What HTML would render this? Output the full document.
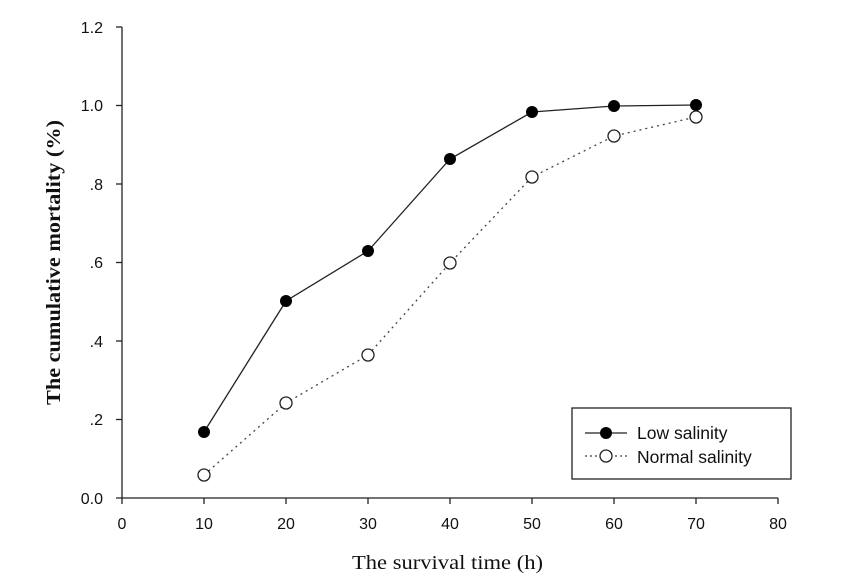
<!DOCTYPE html>
<html><head><style>body{margin:0;background:#fff}svg{display:block}</style></head><body>
<svg width="857" height="576" xmlns="http://www.w3.org/2000/svg" font-family="Liberation Sans, sans-serif">
<g stroke="#222" stroke-width="1.3" fill="none">
<line x1="122" y1="27" x2="122" y2="498"/>
<line x1="116" y1="498" x2="778" y2="498"/>
<line x1="116" y1="27" x2="122" y2="27"/><line x1="116" y1="105.5" x2="122" y2="105.5"/><line x1="116" y1="184" x2="122" y2="184"/><line x1="116" y1="262.5" x2="122" y2="262.5"/><line x1="116" y1="341" x2="122" y2="341"/><line x1="116" y1="419.5" x2="122" y2="419.5"/>
<line x1="122" y1="498" x2="122" y2="504"/><line x1="204" y1="498" x2="204" y2="504"/><line x1="286" y1="498" x2="286" y2="504"/><line x1="368" y1="498" x2="368" y2="504"/><line x1="450" y1="498" x2="450" y2="504"/><line x1="532" y1="498" x2="532" y2="504"/><line x1="614" y1="498" x2="614" y2="504"/><line x1="696" y1="498" x2="696" y2="504"/><line x1="778" y1="498" x2="778" y2="504"/>
</g>
<g font-size="16" fill="#111" text-anchor="end">
<text x="103" y="33">1.2</text><text x="103" y="111">1.0</text><text x="103" y="190">.8</text><text x="103" y="268">.6</text><text x="103" y="347">.4</text><text x="103" y="425">.2</text><text x="103" y="504">0.0</text>
</g>
<g font-size="16" fill="#111" text-anchor="middle">
<text x="122" y="529">0</text><text x="204" y="529">10</text><text x="286" y="529">20</text><text x="368" y="529">30</text><text x="450" y="529">40</text><text x="532" y="529">50</text><text x="614" y="529">60</text><text x="696" y="529">70</text><text x="778" y="529">80</text>
</g>
<text x="352" y="569" font-family="Liberation Serif, serif" font-size="20" textLength="191" lengthAdjust="spacingAndGlyphs" fill="#111">The survival time (h)</text>
<text transform="translate(60,405) rotate(-90)" font-family="Liberation Serif, serif" font-weight="bold" font-size="20" textLength="285" lengthAdjust="spacingAndGlyphs" fill="#111">The cumulative mortality (%)</text>
<polyline fill="none" stroke="#222" stroke-width="1.3" points="204,432 286,301 368,251 450,159 532,112 614,106 696,105"/>
<polyline fill="none" stroke="#444" stroke-width="1.3" stroke-dasharray="2,4" points="204,475 286,403 368,355 450,263 532,177 614,136 696,117"/>
<g fill="#000"><circle cx="204" cy="432" r="6"/><circle cx="286" cy="301" r="6"/><circle cx="368" cy="251" r="6"/><circle cx="450" cy="159" r="6"/><circle cx="532" cy="112" r="6"/><circle cx="614" cy="106" r="6"/><circle cx="696" cy="105" r="6"/></g>
<g fill="#fff" stroke="#222" stroke-width="1.3"><circle cx="204" cy="475" r="6"/><circle cx="286" cy="403" r="6"/><circle cx="368" cy="355" r="6"/><circle cx="450" cy="263" r="6"/><circle cx="532" cy="177" r="6"/><circle cx="614" cy="136" r="6"/><circle cx="696" cy="117" r="6"/></g>
<rect x="572" y="408" width="219" height="71" fill="#fff" stroke="#222" stroke-width="1.3"/>
<line x1="585" y1="433" x2="627" y2="433" stroke="#222" stroke-width="1.3"/><circle cx="606" cy="433" r="6" fill="#000"/>
<line x1="585" y1="456" x2="627" y2="456" stroke="#444" stroke-width="1.3" stroke-dasharray="2,3"/><circle cx="606" cy="456" r="6" fill="#fff" stroke="#222" stroke-width="1.3"/>
<text x="637" y="439" font-size="17.5" fill="#111">Low salinity</text>
<text x="637" y="463" font-size="17.5" fill="#111">Normal salinity</text>
</svg>
</body></html>
